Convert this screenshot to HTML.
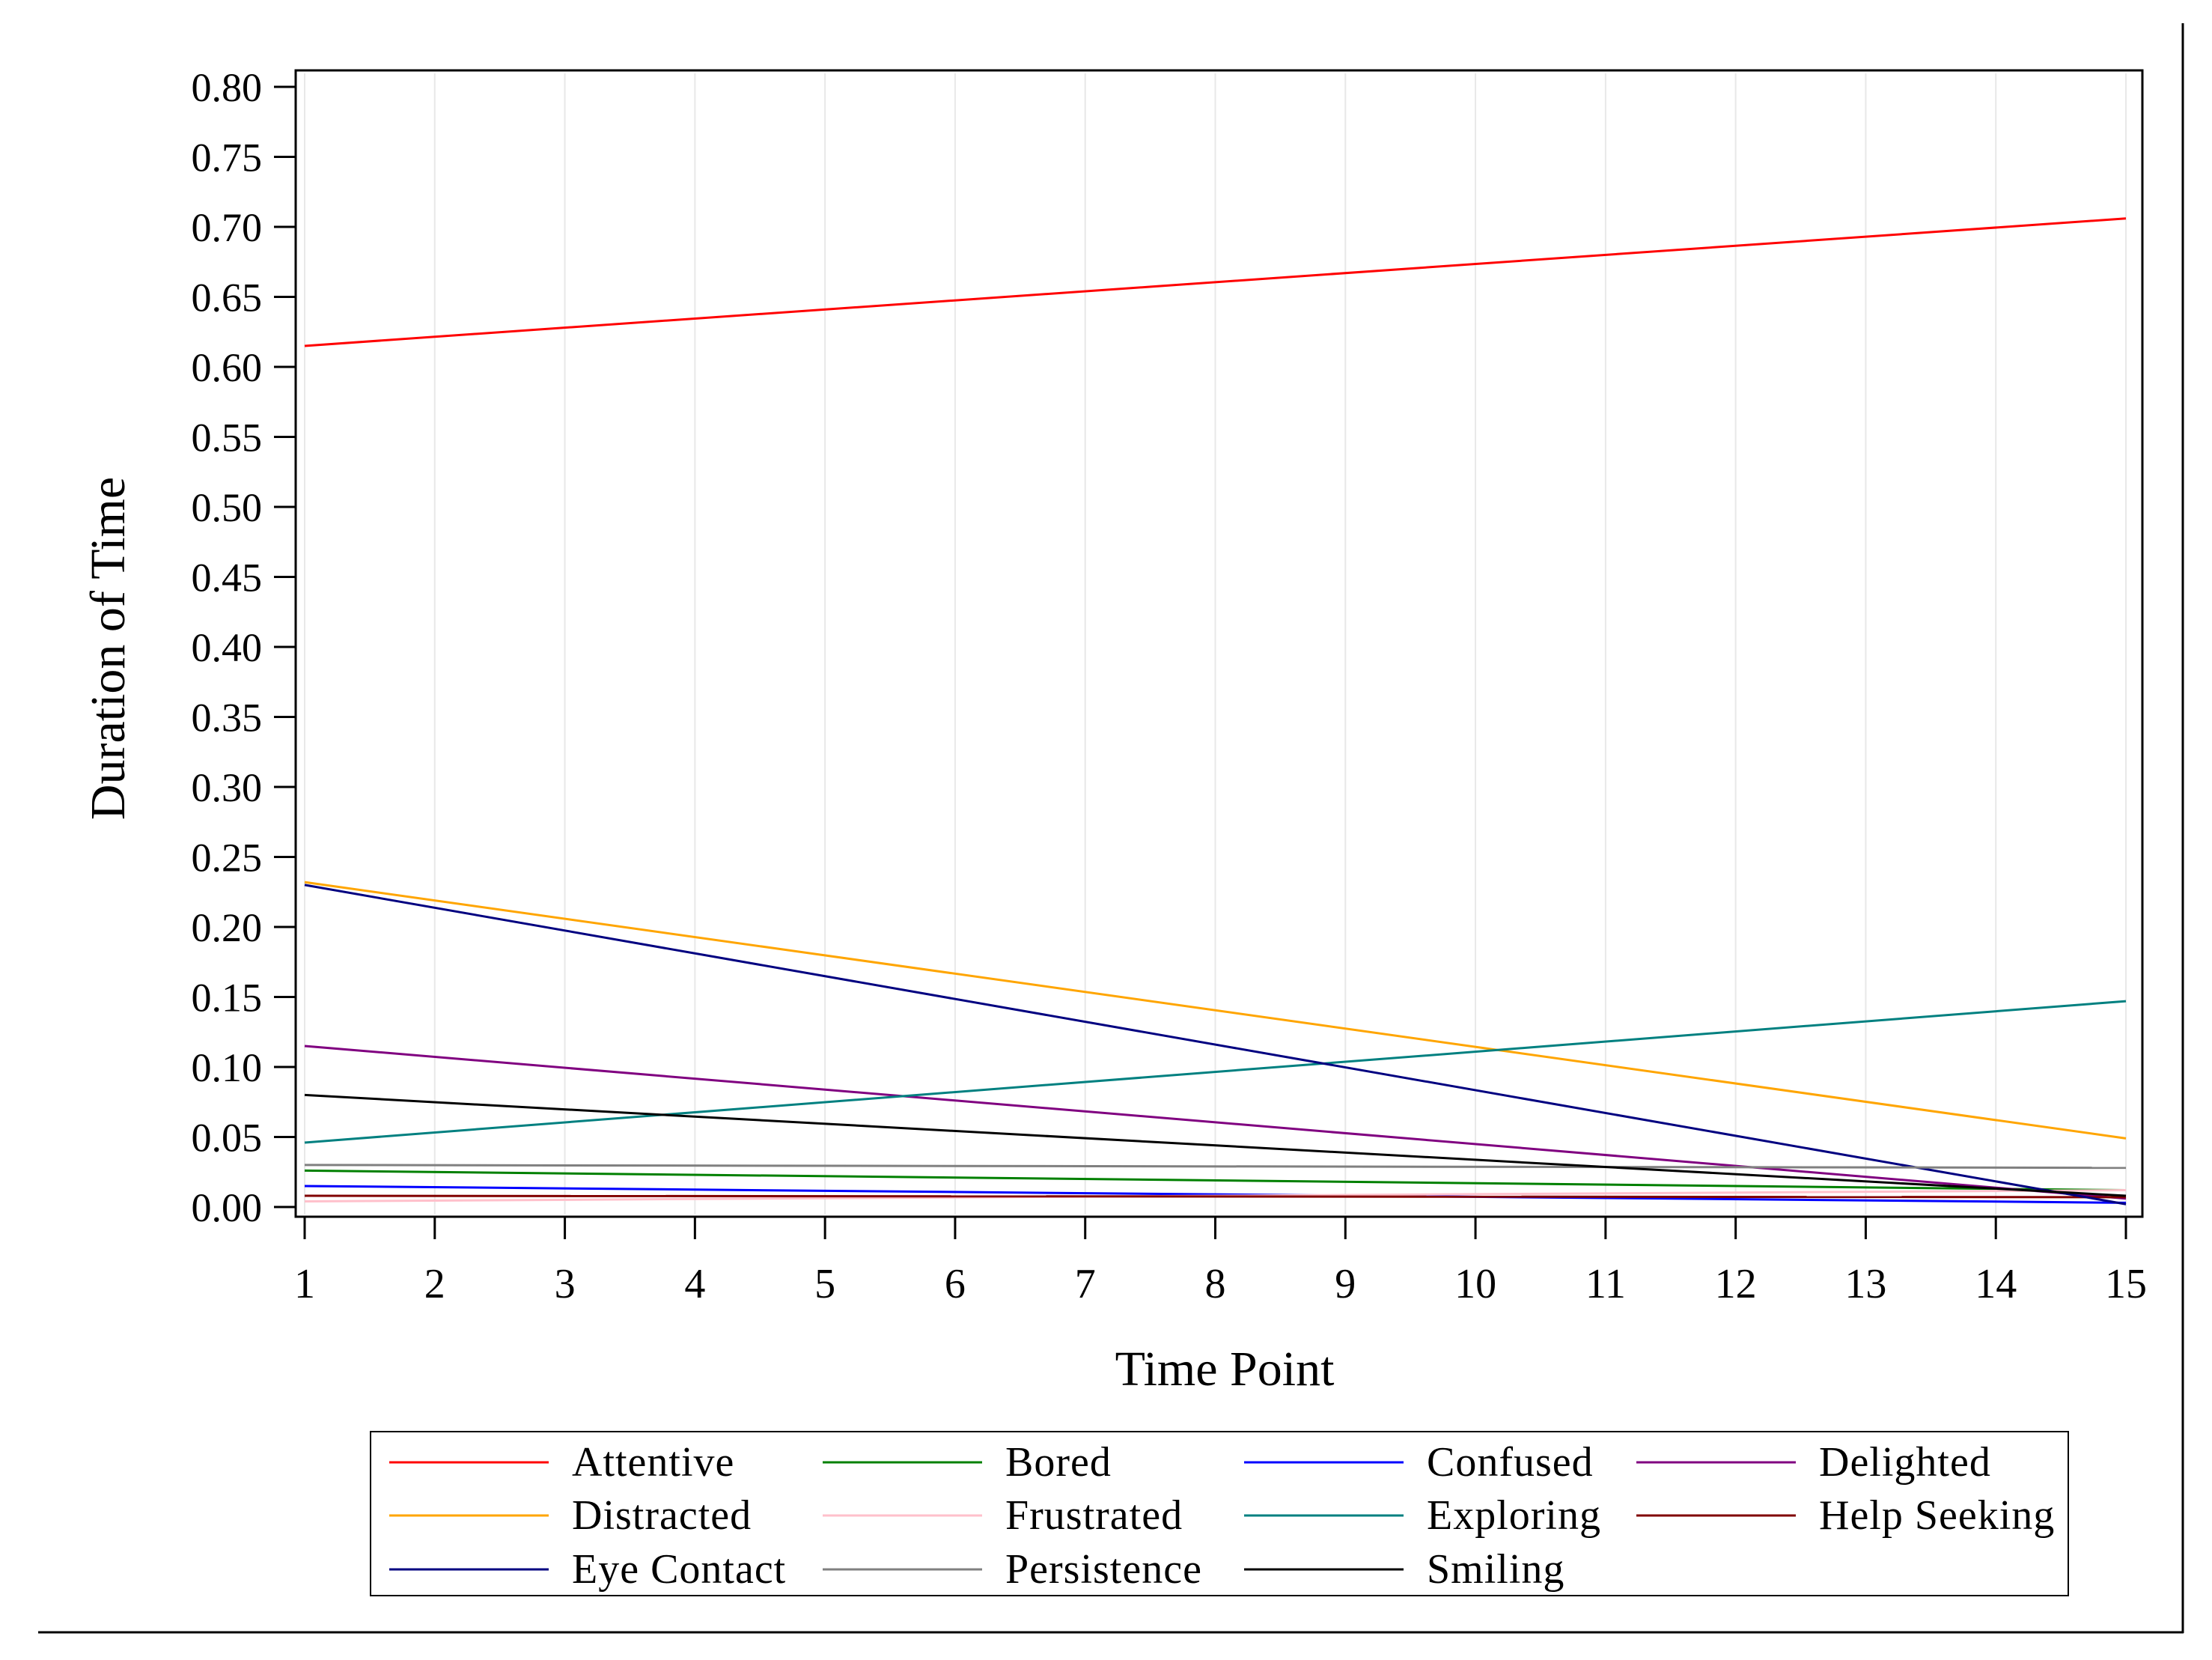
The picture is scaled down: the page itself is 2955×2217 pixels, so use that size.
<!DOCTYPE html>
<html><head><meta charset="utf-8"><style>
html,body{margin:0;padding:0;background:#fff}
svg{display:block;font-family:"Liberation Serif",serif}
</style></head><body>
<svg id="chart" width="2955" height="2217" viewBox="0 0 2955 2217" xmlns="http://www.w3.org/2000/svg">
<rect width="2955" height="2217" fill="#fff"/>
<g id="grid"></g>
<g id="series"></g>
<rect x="395" y="94" width="2467" height="1531" fill="none" stroke="#000" stroke-width="3"/>
<g id="yaxis"></g>
<g id="xaxis"></g>
<text x="1636" y="1850" font-size="66" text-anchor="middle">Time Point</text>
<text transform="translate(166,866) rotate(-90)" font-size="66" text-anchor="middle">Duration of Time</text>
<rect x="495" y="1912" width="2268" height="219" fill="none" stroke="#000" stroke-width="2"/>
<g id="legend"></g>
<line x1="51" y1="2180" x2="2917" y2="2180" stroke="#000" stroke-width="3"/>
<line x1="2916" y1="31" x2="2916" y2="2181" stroke="#000" stroke-width="3"/>
</svg>
<script>
const timePoints = [1, 15];
const xTicks = [1,2,3,4,5,6,7,8,9,10,11,12,13,14,15];
const yTicks = [0,0.05,0.10,0.15,0.20,0.25,0.30,0.35,0.40,0.45,0.50,0.55,0.60,0.65,0.70,0.75,0.80];
const seriesNames = ["Attentive","Bored","Confused","Delighted","Distracted","Frustrated","Exploring","Help Seeking","Eye Contact","Persistence","Smiling"];
const seriesColors = ["#ff0000","#008000","#0000ff","#800080","#ffa500","#ffc0cb","#008080","#800000","#000080","#808080","#000000"];
const attentive = [0.615, 0.706];
const bored = [0.026, 0.012];
const confused = [0.015, 0.003];
const delighted = [0.115, 0.006];
const distracted = [0.232, 0.049];
const frustrated = [0.004, 0.012];
const exploring = [0.046, 0.147];
const helpSeeking = [0.008, 0.007];
const eyeContact = [0.230, 0.002];
const persistence = [0.030, 0.028];
const smiling = [0.080, 0.008];
const seriesValues = [attentive,bored,confused,delighted,distracted,frustrated,exploring,helpSeeking,eyeContact,persistence,smiling];

const NS="http://www.w3.org/2000/svg";
const X0=407, X1=2840, Y0=1612, Y1=116;
const xs=t=>X0+(t-1)*(X1-X0)/14;
const ys=v=>Y0-v*(Y0-Y1)/0.8;
function mk(tag,attrs,parent){const e=document.createElementNS(NS,tag);for(const k in attrs)e.setAttribute(k,attrs[k]);parent.appendChild(e);return e;}
const grid=document.getElementById('grid'), ser=document.getElementById('series'),
ya=document.getElementById('yaxis'), xa=document.getElementById('xaxis'), lg=document.getElementById('legend');

xTicks.forEach(t=>{
  const g=mk('line',{x1:xs(t),x2:xs(t),y1:98,y2:1622,stroke:'#e8e8e8','stroke-width':2},grid);
  
  
  const tk=mk('line',{x1:xs(t),x2:xs(t),y1:1625,y2:1655,stroke:'#000','stroke-width':3},xa);
  
  
  const lb=mk('text',{x:xs(t),y:1733,'font-size':56,'text-anchor':'middle'},xa);
  lb.textContent=t;
  
  
});
yTicks.forEach(v=>{
  const tk=mk('line',{x1:366,x2:395,y1:ys(v),y2:ys(v),stroke:'#000','stroke-width':3},ya);
  
  
  const lb=mk('text',{x:350,y:ys(v)+19,'font-size':54,'text-anchor':'end'},ya);
  lb.textContent=v.toFixed(2);
  
  
});
seriesValues.forEach((vals,i)=>{
  const pts=vals.map((v,j)=>xs(timePoints[j])+','+ys(v)).join(' ');
  const pl=mk('polyline',{points:pts,fill:'none',stroke:seriesColors[i],'stroke-width':3},ser);
  
  
});
const legendOrder=["Attentive","Bored","Confused","Delighted","Distracted","Frustrated","Exploring","Help Seeking","Eye Contact","Persistence","Smiling"];
const colX=[520,1099,1662,2186], rowY=[1953,2024,2096];
legendOrder.forEach((n,k)=>{
  const i=seriesNames.indexOf(n), c=k%4, r=Math.floor(k/4);
  const ln=mk('line',{x1:colX[c],x2:colX[c]+213,y1:rowY[r],y2:rowY[r],stroke:seriesColors[i],'stroke-width':3},lg);
  
  
  const tx=mk('text',{x:colX[c]+244,y:rowY[r]+18,'font-size':56,'letter-spacing':1},lg);
  tx.textContent=n;
  
  
});
</script>
</body></html>
